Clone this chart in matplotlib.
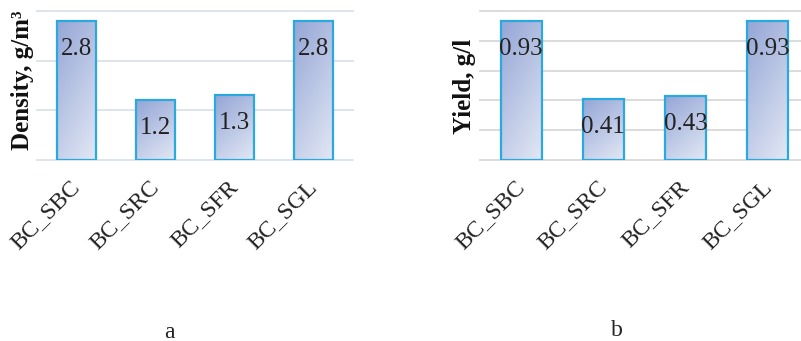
import numpy as np
import matplotlib
matplotlib.use("Agg")
import matplotlib.pyplot as plt
import matplotlib.transforms as mtransforms
from matplotlib.colors import LinearSegmentedColormap

categories = ["BC_SBC", "BC_SRC", "BC_SFR", "BC_SGL"]
density = [2.8, 1.2, 1.3, 2.8]
density_labels = ["2.8", "1.2", "1.3", "2.8"]
yield_gl = [0.93, 0.41, 0.43, 0.93]
yield_labels = ["0.93", "0.41", "0.43", "0.93"]

plt.rcParams['font.family'] = ['Liberation Serif', 'DejaVu Serif']

GRAD = LinearSegmentedColormap.from_list("bargrad", ["#95a6d6", "#e2e8f4"])
EDGE = "#2aa9e0"


def gradient_fill(ax, bars):
    # diagonal gradient clipped to each bar, dark top-left -> light bottom-right
    u = np.linspace(0, 1, 60)
    v = np.linspace(0, 1, 200)
    uu, vv = np.meshgrid(u, v)
    grad = 0.35 * uu + 0.65 * vv
    for b in bars:
        x0, y0 = b.get_x(), b.get_y()
        x1, y1 = x0 + b.get_width(), y0 + b.get_height()
        im = ax.imshow(grad, cmap=GRAD, extent=(x0, x1, y0, y1), aspect='auto',
                       origin='upper', zorder=2, interpolation='bilinear')
        im.set_clip_path(b)
        b.set_facecolor('none')


def make_panel(fig, ax, values, labels, ymax, step, grid_color):
    x = np.arange(len(categories))
    bars = ax.bar(x, values, width=0.5, edgecolor=EDGE, linewidth=1.6, zorder=3)
    gradient_fill(ax, bars)
    for xi, v, lab in zip(x, values, labels):
        ax.annotate(lab, (xi, v), xytext=(0, -20), textcoords='offset points',
                    ha='center', va='center', fontsize=18, color='#222222', zorder=4)
    ax.set_xlim(-0.5, len(categories) - 0.5)
    ax.set_ylim(0, ymax)
    ax.set_yticks(np.arange(0, ymax + step / 2, step))
    ax.set_yticklabels([])
    ax.tick_params(axis='y', length=0)
    ax.tick_params(axis='x', length=0, pad=12)
    ax.set_xticks(x)
    ax.set_xticklabels(categories, rotation=45, ha='right', va='top',
                       rotation_mode='anchor', fontsize=17, color='#222222')
    shift = mtransforms.ScaledTranslation(-5 / 72, 0, fig.dpi_scale_trans)
    for t in ax.get_xticklabels():
        t.set_transform(t.get_transform() + shift)
    for s in ax.spines.values():
        s.set_visible(False)
    ax.yaxis.grid(True, color=grid_color, linewidth=1.3)
    for gl in ax.yaxis.get_gridlines():
        gl.set_clip_on(False)
    ax.set_axisbelow(True)


fig = plt.figure(figsize=(8.01, 3.41), dpi=100)
ax1 = fig.add_axes([37 / 801, 1 - 160 / 341, 316 / 801, 149 / 341])
ax2 = fig.add_axes([480 / 801, 1 - 160 / 341, 329 / 801, 149 / 341])

make_panel(fig, ax1, density, density_labels, 3, 1, "#dce2e9")
make_panel(fig, ax2, yield_gl, yield_labels, 1.0, 0.2, "#d9d9d9")

fig.text(23 / 801, 1 - 80 / 341, "Density, g/m³", rotation=90,
         ha='center', va='center', fontsize=18, fontweight='bold', color='#111111')
fig.text(465 / 801, 1 - 86 / 341, "Yield, g/l", rotation=90,
         ha='center', va='center', fontsize=18, fontweight='bold', color='#111111')

fig.text(169 / 801, 1 - 332 / 341, "a", ha='center', va='center', fontsize=17, color='#222222')
fig.text(617 / 801, 1 - 331 / 341, "b", ha='center', va='center', fontsize=17, color='#222222')

fig.savefig("out.png", dpi=100)
